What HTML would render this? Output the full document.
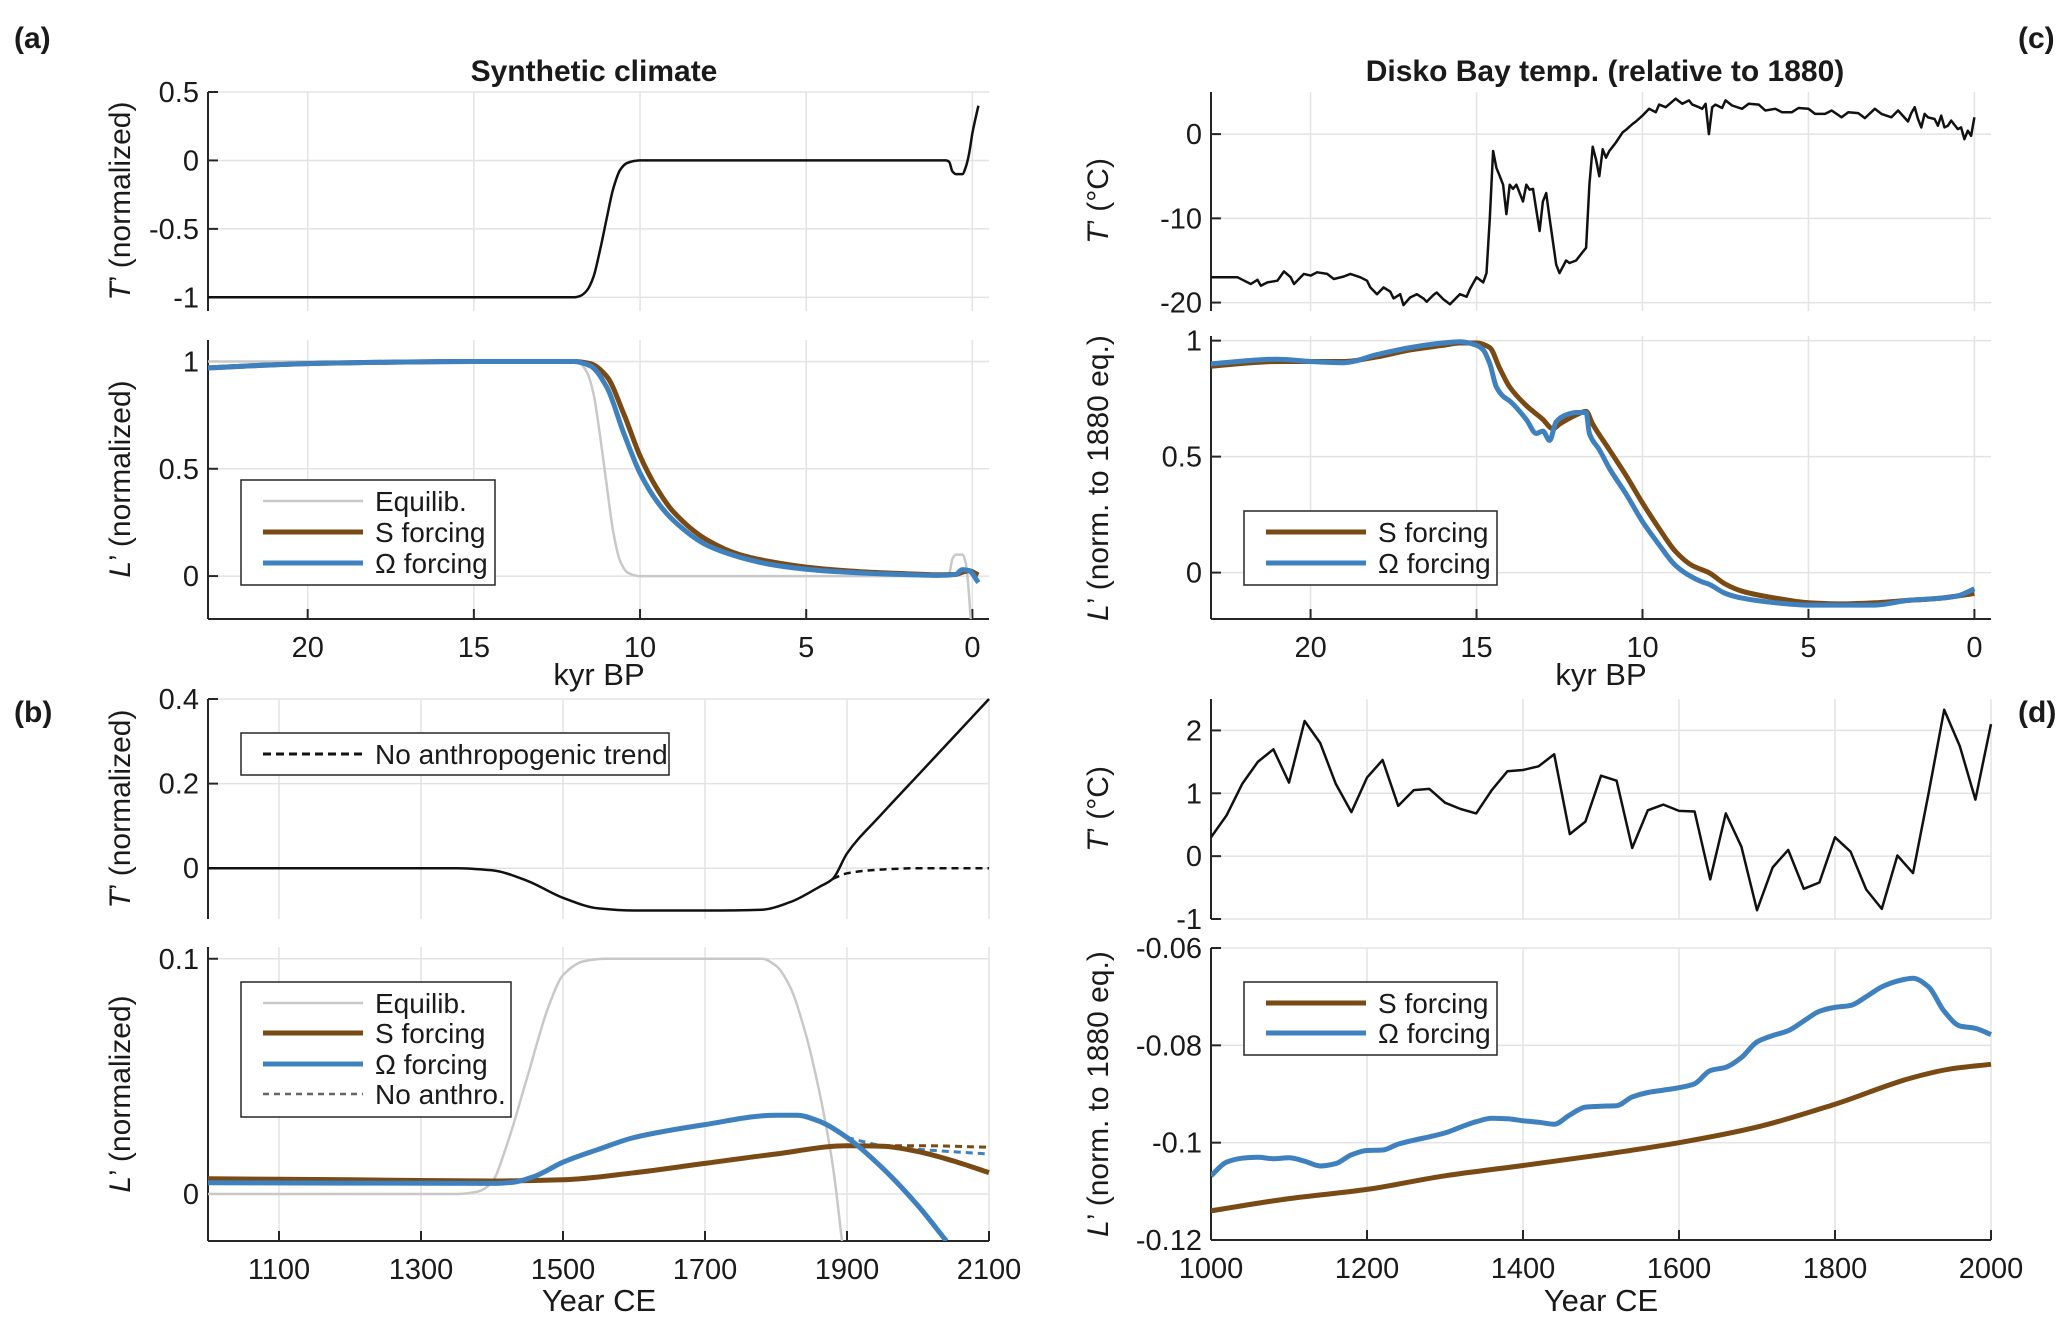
<!DOCTYPE html>
<html><head><meta charset="utf-8"><style>
html,body{margin:0;padding:0;background:#fff;}
svg text{font-family:"Liberation Sans",sans-serif;fill:#1a1a1a;}
</style></head><body>
<svg id="fig" xmlns="http://www.w3.org/2000/svg" width="2067" height="1328" viewBox="0 0 2067 1328">
<rect x="0" y="0" width="2067" height="1328" fill="#fff"/>
<text x="14" y="48" font-size="30" font-weight="bold">(a)</text>
<text x="14" y="722" font-size="30" font-weight="bold">(b)</text>
<text x="2018" y="48" font-size="30" font-weight="bold">(c)</text>
<text x="2018" y="722" font-size="30" font-weight="bold">(d)</text>
<text x="594" y="81" font-size="30" font-weight="bold" text-anchor="middle">Synthetic climate</text>
<text x="1605" y="81" font-size="30" font-weight="bold" text-anchor="middle">Disko Bay temp. (relative to 1880)</text>
<g id="plots"></g>
</svg>
<script>
// ---------- data ----------
const aTx=[23,12,11.8,11.6,11.4,11.2,11,10.8,10.6,10.4,10.2,10,0.8,0.7,0.6,0.5,0.4,0.3,0.2,0.1,0,-0.18];
const aTy=[-1,-1,-0.99,-0.95,-0.85,-0.65,-0.42,-0.2,-0.07,-0.02,-0.005,0,0,-0.01,-0.08,-0.1,-0.1,-0.1,-0.05,0.05,0.2,0.4];
const aEqx=[23,12,11.8,11.6,11.4,11.2,11,10.8,10.6,10.4,10.2,10,0.8,0.7,0.6,0.5,0.4,0.3,0.2,0.12,0.05];
const aEqy=[1,1,0.99,0.95,0.85,0.65,0.42,0.2,0.07,0.02,0.005,0,0,0.01,0.08,0.1,0.1,0.1,0.06,-0.05,-0.2];
const aSx=[23,20,15,12,11.5,11,10.5,10,9.5,9,8,7,6,5,4,3,2,1,0.5,0.3,0.1,-0.18];
const aSy=[0.97,0.99,1,1,0.99,0.93,0.76,0.56,0.41,0.3,0.17,0.1,0.065,0.042,0.027,0.017,0.011,0.006,0.008,0.018,0.025,0.005];
const aOx=[23,20,15,12,11.5,11,10.5,10,9.5,9,8,7,6,5,4,3,2,1,0.5,0.3,0.1,-0.18];
const aOy=[0.97,0.99,1,1,0.98,0.88,0.67,0.48,0.35,0.26,0.145,0.088,0.052,0.032,0.02,0.012,0.007,0.003,0.008,0.03,0.025,-0.03];

const bTx=[1000,1350,1400,1450,1500,1550,1600,1700,1780,1820,1860,1880,1900,1950,2000,2050,2100];
const bTy=[0,0,-0.005,-0.03,-0.07,-0.095,-0.1,-0.1,-0.098,-0.08,-0.045,-0.025,0.035,0.13,0.22,0.31,0.4];
const bTnx=[1880,1900,1950,2000,2100];
const bTny=[-0.025,-0.012,-0.003,0,0];
const bEqx=[1000,1350,1380,1400,1420,1450,1480,1500,1530,1560,1780,1800,1820,1840,1860,1880,1893];
const bEqy=[0,0,0.001,0.005,0.02,0.05,0.08,0.093,0.099,0.1,0.1,0.097,0.088,0.07,0.045,0.012,-0.02];
const bSx=[1000,1200,1400,1500,1600,1700,1800,1900,1950,2000,2050,2100];
const bSy=[0.0065,0.006,0.0055,0.006,0.009,0.013,0.017,0.0205,0.0203,0.018,0.014,0.0091];
const bOx=[1000,1400,1430,1460,1500,1550,1600,1700,1800,1830,1860,1900,1950,2000,2040];
const bOy=[0.0048,0.0045,0.005,0.0075,0.0135,0.019,0.024,0.0295,0.0335,0.0335,0.031,0.024,0.011,-0.005,-0.02];
const bSnx=[1900,1950,2000,2100];
const bSny=[0.0205,0.0205,0.0205,0.0199];
const bOnx=[1900,1950,2000,2100];
const bOny=[0.024,0.0205,0.019,0.017];

const cTx=[23,22.2,22,21.8,21.6,21.5,21.3,21,20.8,20.6,20.5,20.3,20.2,20,19.8,19.5,19.3,19,18.8,18.5,18.3,18.2,18,17.8,17.6,17.5,17.3,17.2,17,16.8,16.6,16.5,16.3,16.2,16,15.8,15.6,15.5,15.3,15.2,15,14.8,14.7,14.6,14.5,14.4,14.3,14.2,14.1,14,13.9,13.8,13.6,13.5,13.4,13.3,13.1,13,12.9,12.8,12.6,12.5,12.3,12.2,12,11.8,11.7,11.6,11.5,11.4,11.3,11.2,11.1,11,10.9,10.8,10.6,10.5,10.3,10.2,10,9.8,9.6,9.5,9.3,9,8.8,8.6,8.5,8.3,8.2,8.1,8,7.9,7.8,7.6,7.5,7.3,7,6.8,6.5,6.3,6,5.8,5.5,5.3,5,4.8,4.5,4.3,4,3.8,3.5,3.3,3,2.8,2.5,2.3,2,1.9,1.8,1.7,1.6,1.5,1.4,1.2,1.1,1,0.9,0.8,0.7,0.5,0.4,0.3,0.2,0.1,0];
const cTy=[-17,-17,-17.4,-17.8,-17.3,-18,-17.6,-17.4,-16.3,-17,-17.8,-17,-16.6,-16.8,-16.4,-16.6,-17.2,-16.9,-16.6,-17,-17.4,-18.2,-19,-18.2,-18.7,-19.5,-19,-20.3,-19.4,-19,-19.5,-19.9,-19.1,-18.8,-19.6,-20.2,-19.4,-19,-19.3,-18.4,-17,-17.6,-16.5,-10,-2,-4,-5,-6,-9.5,-6,-6.5,-6,-8,-6,-6.6,-6.5,-11.5,-8,-7,-10,-15.5,-16.5,-15,-15.3,-15,-14,-13.5,-6,-1.5,-3,-5,-1.8,-2.8,-2,-1.5,-1,0.2,0.5,1.2,1.5,2.2,3,2.6,3.5,3.2,4.2,3.6,4,3.5,3.2,3,3.6,0,3.2,3.5,3.1,4,3.4,3,3.6,3.5,2.8,3,2.6,2.6,3.1,3,2.4,2.4,2.8,2,2.6,2.5,1.9,3,2.4,2,2.8,1.5,2.5,3.2,1.8,0.8,2.4,2,1.8,1,2.2,0.8,1,1.6,0.6,0.8,-0.6,0.4,-0.2,2];
const cSx=[23,21,19,18,17,16,15.5,15,14.6,14.3,14,13.5,13,12.7,12.5,12,11.7,11.5,11,10.5,10,9.5,9,8.5,8,7.5,7,6,5,4,3,2,1,0];
const cSy=[0.89,0.91,0.91,0.93,0.96,0.98,0.99,0.99,0.97,0.88,0.8,0.72,0.66,0.62,0.64,0.68,0.695,0.64,0.53,0.42,0.3,0.19,0.09,0.03,0,-0.05,-0.08,-0.11,-0.13,-0.135,-0.13,-0.12,-0.11,-0.09];
const cOx=[23,21,20,19,18,17,16,15.5,15,14.8,14.6,14.4,14.2,14,13.5,13.2,13,12.8,12.6,12.3,12,11.7,11.6,11.3,11,10.5,10,9.5,9,8.5,8.2,8,7.5,7,6,5,4,3,2,1,0.5,0];
const cOy=[0.9,0.92,0.91,0.905,0.94,0.97,0.99,0.995,0.98,0.96,0.9,0.8,0.76,0.74,0.66,0.6,0.61,0.57,0.65,0.68,0.69,0.69,0.6,0.53,0.45,0.34,0.22,0.12,0.03,-0.02,-0.04,-0.05,-0.09,-0.11,-0.13,-0.14,-0.14,-0.14,-0.12,-0.11,-0.1,-0.07];

const dTx=[1000,1020,1040,1060,1080,1100,1120,1140,1160,1180,1200,1220,1240,1260,1280,1300,1320,1340,1360,1380,1400,1420,1440,1460,1480,1500,1520,1540,1560,1580,1600,1620,1640,1660,1680,1700,1720,1740,1760,1780,1800,1820,1840,1860,1880,1900,1920,1940,1960,1980,2000];
const dTy=[0.3,0.65,1.15,1.5,1.7,1.17,2.15,1.8,1.15,0.7,1.25,1.53,0.8,1.05,1.07,0.85,0.75,0.68,1.05,1.35,1.37,1.43,1.62,0.35,0.55,1.28,1.2,0.13,0.73,0.82,0.72,0.71,-0.37,0.68,0.15,-0.86,-0.18,0.1,-0.52,-0.42,0.3,0.07,-0.53,-0.84,0.01,-0.27,1.0,2.33,1.75,0.9,2.1];
const dSx=[1000,1100,1200,1300,1400,1500,1600,1700,1800,1900,1950,2000];
const dSy=[-0.1140,-0.1115,-0.1096,-0.1068,-0.1047,-0.1025,-0.1000,-0.0968,-0.0921,-0.0866,-0.0848,-0.0839];
const dOx=[1000,1020,1040,1060,1080,1100,1120,1140,1160,1180,1200,1220,1240,1260,1280,1300,1320,1340,1360,1380,1400,1420,1440,1460,1480,1500,1520,1540,1560,1580,1600,1620,1640,1660,1680,1700,1720,1740,1760,1780,1800,1820,1840,1860,1880,1900,1920,1940,1960,1980,2000];
const dOy=[-0.1068,-0.1040,-0.1032,-0.1030,-0.1033,-0.1031,-0.1038,-0.1048,-0.1043,-0.1025,-0.1016,-0.1015,-0.1003,-0.0995,-0.0988,-0.0980,-0.0968,-0.0957,-0.0950,-0.0951,-0.0955,-0.0958,-0.0962,-0.0943,-0.0927,-0.0925,-0.0924,-0.0906,-0.0897,-0.0892,-0.0887,-0.0879,-0.0852,-0.0845,-0.0825,-0.0793,-0.0780,-0.0770,-0.0750,-0.0730,-0.0722,-0.0718,-0.0700,-0.0680,-0.0668,-0.0662,-0.0680,-0.0730,-0.0760,-0.0765,-0.0778];

const kyrTicks=[20,15,10,5,0];
const yrTicksB=[1100,1300,1500,1700,1900,2100];
const yrTicksD=[1000,1200,1400,1600,1800,2000];

// ---------- drawing ----------
const NS='http://www.w3.org/2000/svg';
const root=document.getElementById('plots');
const BROWN='#7a4a14',BLUE='#3f80bf',GRAY='#c8c8c8';
const TF=29;
function mk(tag,attrs,parent){const e=document.createElementNS(NS,tag);for(const k in attrs)e.setAttribute(k,attrs[k]);(parent||root).appendChild(e);return e;}
function axes(px,py,pw,ph,x0,x1,y0,y1){
  return {sx:v=>px+(v-x0)/(x1-x0)*pw, sy:v=>py+ph-(v-y0)/(y1-y0)*ph, px,py,pw,ph};
}
function panel(name,ax,xt,yt,ytl,showX,xlabels){
  const g=mk('g',{});
  
  
  xt.forEach((v,i)=>{const x=ax.sx(v);
    const l=mk('line',{x1:x,x2:x,y1:ax.py,y2:ax.py+ax.ph,stroke:'#e3e3e3','stroke-width':1.5},g);
    
    
    if(showX){
      const t=mk('line',{x1:x,x2:x,y1:ax.py+ax.ph,y2:ax.py+ax.ph-10,stroke:'#262626','stroke-width':2},g);
      
      
      const tx=mk('text',{x:x,y:ax.py+ax.ph+38,'font-size':TF,'text-anchor':'middle'},g);
      tx.textContent=xlabels?xlabels[i]:String(v);
      
      
    }});
  yt.forEach((v,i)=>{const y=ax.sy(v);
    const l=mk('line',{x1:ax.px,x2:ax.px+ax.pw,y1:y,y2:y,stroke:'#e3e3e3','stroke-width':1.5},g);
    
    
    const t=mk('line',{x1:ax.px,x2:ax.px+10,y1:y,y2:y,stroke:'#262626','stroke-width':2},g);
    
    
    const tx=mk('text',{x:ax.px-9,y:y+10,'font-size':TF,'text-anchor':'end'},g);
    tx.textContent=ytl[i];
    
    
  });
  const yl=mk('line',{x1:ax.px,x2:ax.px,y1:ax.py,y2:ax.py+ax.ph,stroke:'#262626','stroke-width':2},g);
  
  
  if(showX){const xl=mk('line',{x1:ax.px,x2:ax.px+ax.pw,y1:ax.py+ax.ph,y2:ax.py+ax.ph,stroke:'#262626','stroke-width':2},g);
    
    }
  return g;
}
// monotone cubic (Fritsch-Carlson) in pixel space, x strictly increasing after sort
function pathD(ax,xs,ys,smooth){
  let p=xs.map((x,i)=>[ax.sx(x),ax.sy(ys[i])]);
  if(p.length>1&&p[0][0]>p[p.length-1][0])p=p.slice().reverse();
  if(!smooth)return 'M'+p.map(q=>q[0].toFixed(1)+','+q[1].toFixed(1)).join('L');
  const n=p.length,d=[],m=[];
  for(let i=0;i<n-1;i++)d.push((p[i+1][1]-p[i][1])/(p[i+1][0]-p[i][0]));
  m[0]=d[0];m[n-1]=d[n-2];
  for(let i=1;i<n-1;i++){
    if(d[i-1]*d[i]<=0)m[i]=0;
    else{const h0=p[i][0]-p[i-1][0],h1=p[i+1][0]-p[i][0];
      const w1=2*h1+h0,w2=h1+2*h0;m[i]=(w1+w2)/(w1/d[i-1]+w2/d[i]);}
  }
  let s='M'+p[0][0].toFixed(1)+','+p[0][1].toFixed(1);
  for(let i=0;i<n-1;i++){
    const h=(p[i+1][0]-p[i][0])/3;
    s+='C'+(p[i][0]+h).toFixed(1)+','+(p[i][1]+m[i]*h).toFixed(1)+' '+(p[i+1][0]-h).toFixed(1)+','+(p[i+1][1]-m[i+1]*h).toFixed(1)+' '+p[i+1][0].toFixed(1)+','+p[i+1][1].toFixed(1);
  }
  return s;
}
function series(name,ax,xs,ys,color,w,smooth,dash){
  const clip=mk('clipPath',{id:'c'+name});
  mk('rect',{x:ax.px,y:ax.py-3,width:ax.pw+4,height:ax.ph+3},clip);
  const e=mk('path',{d:pathD(ax,xs,ys,smooth),fill:'none',stroke:color,'stroke-width':w,'stroke-linejoin':'round','clip-path':'url(#c'+name+')'});
  if(dash)e.setAttribute('stroke-dasharray',dash);
  
  
  return e;
}
function ylabel(name,x,y,sym,rest){
  const t=mk('text',{x:0,y:0,'font-size':30,'text-anchor':'middle',transform:`translate(${x},${y}) rotate(-90)`});
  
  
  const a=mk('tspan',{'font-style':'italic'},t);a.textContent=sym;
  const b=mk('tspan',{},t);b.textContent='’  '+rest;
}
function xlabel(name,x,y,txt){const t=mk('text',{x:x,y:y,'font-size':31,'text-anchor':'middle'});t.textContent=txt;
  
  }
function legend(name,x,y,w,h,items){
  const g=mk('g',{});
  
  
  mk('rect',{x:x,y:y,width:w,height:h,fill:'#fff',stroke:'#262626','stroke-width':1.5},g);
  items.forEach(it=>{
    const e=mk('g',{},g);
    
    
    const l=mk('line',{x1:x+22,x2:x+122,y1:it.y,y2:it.y,stroke:it.c,'stroke-width':it.w},e);
    if(it.dash)l.setAttribute('stroke-dasharray',it.dash);
    const t=mk('text',{x:x+134,y:it.y+10,'font-size':28},e);t.textContent=it.t;
  });
}

// Panel a
const aT=axes(208,92,781,219,23,-0.5,-1.1,0.5);
panel('panel-a-temp',aT,kyrTicks,[0.5,0,-0.5,-1],['0.5','0','-0.5','-1'],false);
series('a-temp-line',aT,aTx,aTy,'#111',2.5,true);
const aL=axes(208,340,781,279,23,-0.5,-0.2,1.1);
panel('panel-a-length',aL,kyrTicks,[1,0.5,0],['1','0.5','0'],true);
series('a-equilib-line',aL,aEqx,aEqy,GRAY,2.5,true);
series('a-s-forcing-line',aL,aSx,aSy,BROWN,5,true);
series('a-omega-forcing-line',aL,aOx,aOy,BLUE,5,true);
ylabel('a-temp-y-label',130,201,'T','(normalized)');
ylabel('a-length-y-label',130,479,'L','(normalized)');
xlabel('a-x-label',599,685,'kyr BP');
legend('a-legend',241,480,254,105,[{y:501,c:GRAY,w:2.5,t:'Equilib.'},{y:532,c:BROWN,w:5,t:'S forcing'},{y:563,c:BLUE,w:5,t:'Ω forcing'}]);

// Panel b
const bT=axes(208,699,781,220,1000,2100,-0.12,0.4);
panel('panel-b-temp',bT,yrTicksB,[0.4,0.2,0],['0.4','0.2','0'],false);
series('b-temp-line',bT,bTx,bTy,'#111',2.5,true);
series('b-temp-no-anthro-line',bT,bTnx,bTny,'#111',2.5,true,'7,5');
const bL=axes(208,947,781,294,1000,2100,-0.02,0.105);
panel('panel-b-length',bL,yrTicksB,[0.1,0],['0.1','0'],true);
series('b-equilib-line',bL,bEqx,bEqy,GRAY,2.5,true);
series('b-s-no-anthro-line',bL,bSnx,bSny,BROWN,3,true,'7,5');
series('b-omega-no-anthro-line',bL,bOnx,bOny,BLUE,3,true,'7,5');
series('b-s-forcing-line',bL,bSx,bSy,BROWN,5,true);
series('b-omega-forcing-line',bL,bOx,bOy,BLUE,5,true);
ylabel('b-temp-y-label',130,809,'T','(normalized)');
ylabel('b-length-y-label',130,1094,'L','(normalized)');
xlabel('b-x-label',599,1311,'Year CE');
legend('b-temp-legend',241,733,428,42,[{y:754,c:'#111',w:3,t:'No anthropogenic trend',dash:'8,5'}]);
legend('b-length-legend',241,982,270,135,[{y:1003,c:GRAY,w:2.5,t:'Equilib.'},{y:1033,c:BROWN,w:5,t:'S forcing'},{y:1064,c:BLUE,w:5,t:'Ω forcing'},{y:1094,c:'#666',w:2.5,t:'No anthro.',dash:'6,5'}]);

// Panel c
const cT=axes(1211,92,780,219,23,-0.5,-21,5);
panel('panel-c-temp',cT,kyrTicks,[0,-10,-20],['0','-10','-20'],false);
series('c-temp-line',cT,cTx,cTy,'#111',2.5,false);
const cL=axes(1211,336,780,283,23,-0.5,-0.2,1.02);
panel('panel-c-length',cL,kyrTicks,[1,0.5,0],['1','0.5','0'],true);
series('c-s-forcing-line',cL,cSx,cSy,BROWN,5,true);
series('c-omega-forcing-line',cL,cOx,cOy,BLUE,5,true);
ylabel('c-temp-y-label',1108,201,'T','(°C)');
ylabel('c-length-y-label',1108,478,'L','(norm. to 1880 eq.)');
xlabel('c-x-label',1601,685,'kyr BP');
legend('c-legend',1244,511,253,74,[{y:532,c:BROWN,w:5,t:'S forcing'},{y:563,c:BLUE,w:5,t:'Ω forcing'}]);

// Panel d
const dT=axes(1211,699,780,220,1000,2000,-1,2.5);
panel('panel-d-temp',dT,yrTicksD,[2,1,0,-1],['2','1','0','-1'],false);
series('d-temp-line',dT,dTx,dTy,'#111',2.5,false);
const dL=axes(1211,948,780,292,1000,2000,-0.12,-0.06);
panel('panel-d-length',dL,yrTicksD,[-0.06,-0.08,-0.1,-0.12],['-0.06','-0.08','-0.1','-0.12'],true);
series('d-s-forcing-line',dL,dSx,dSy,BROWN,5,true);
series('d-omega-forcing-line',dL,dOx,dOy,BLUE,5,true);
ylabel('d-temp-y-label',1108,809,'T','(°C)');
ylabel('d-length-y-label',1108,1094,'L','(norm. to 1880 eq.)');
xlabel('d-x-label',1601,1311,'Year CE');
legend('d-legend',1244,982,253,73,[{y:1003,c:BROWN,w:5,t:'S forcing'},{y:1033,c:BLUE,w:5,t:'Ω forcing'}]);
</script>
</body></html>
